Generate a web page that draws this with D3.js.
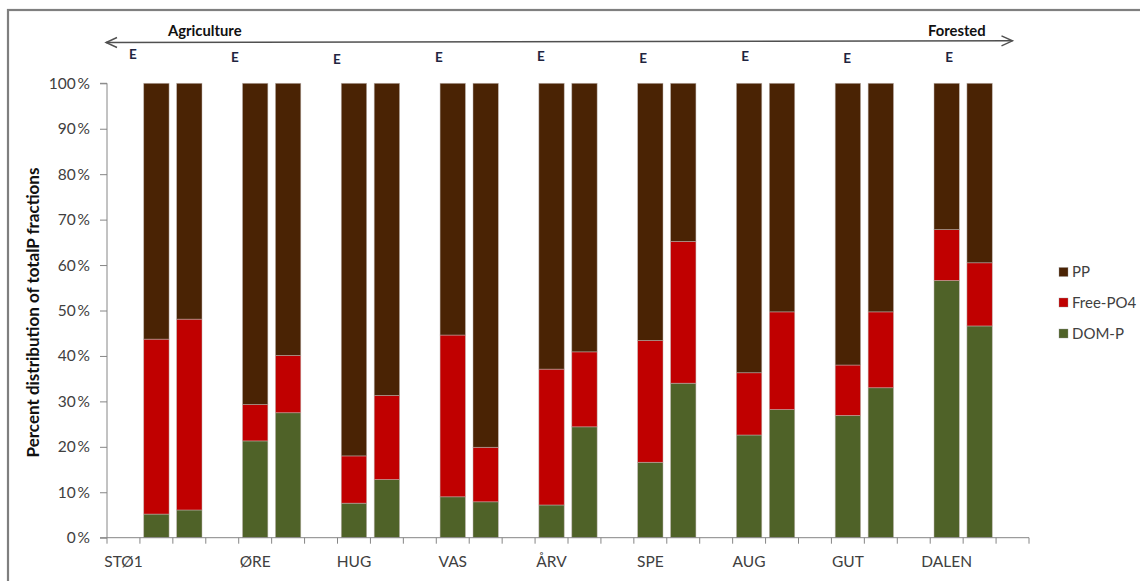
<!DOCTYPE html>
<html>
<head>
<meta charset="utf-8">
<script src="https://cdn.jsdelivr.net/npm/d3@7"></script>
<style>
  html, body { margin: 0; padding: 0; background: #fff; }
  svg { display: block; }
  text { font-family: Lato, "Open Sans", sans-serif; }
</style>
</head>
<body>
<svg id="chart" width="1140" height="581"></svg>
<script>
// ---- data ----
const sites = ["STØ1", "ØRE", "HUG", "VAS", "ÅRV", "SPE", "AUG", "GUT", "DALEN"];
// 28 category slots on the x axis (spacer, E bar, second bar per site, + trailing spacer)
const tickLabels = ["STØ1","","","","ØRE","","","HUG","","","VAS","","","ÅRV","","","SPE","","","AUG","","","GUT","","","DALEN","",""];
// bars: for each site the "E" bar then the second bar
const barSlots = [1,2, 4,5, 7,8, 10,11, 13,14, 16,17, 19,20, 22,23, 25,26];
const domP    = [5.2, 6.1, 21.3, 27.5, 7.6, 12.8, 9.0, 7.9, 7.2, 24.4, 16.6, 34.0, 22.6, 28.2, 26.9, 33.0, 56.6, 46.6];
const freePO4 = [38.5, 42.0, 8.0, 12.6, 10.4, 18.5, 35.6, 12.0, 29.9, 16.5, 26.8, 31.2, 13.7, 21.5, 11.1, 16.7, 11.2, 13.9];
const pp      = [56.3, 51.9, 70.7, 59.9, 82.0, 68.7, 55.4, 80.1, 62.9, 59.1, 56.6, 34.8, 63.7, 50.3, 62.0, 50.3, 32.2, 39.5];
const seriesNames = ["DOM-P", "Free-PO4", "PP"];
const seriesColors = ["#4f6228", "#c00000", "#4a2304"];
const yTicks = [0, 10, 20, 30, 40, 50, 60, 70, 80, 90, 100];
const eLabels = ["E","E","E","E","E","E","E","E","E"];
const eDy = [0, 3, 5, 3, 2, 4, 2, 4, 3];

// ---- layout ----
const svg = d3.select("#chart");
const pLeft = 107, pRight = 1029, pTop = 83.3, pBottom = 537.7;
const axisColor = "#868686";
const textColor = "#404040";

// frame
svg.append("rect").attr("x", 8).attr("y", 10).attr("width", 1200).attr("height", 700)
  .attr("fill", "none").attr("stroke", "#7f7f7f").attr("stroke-width", 2.2);

const x = d3.scaleBand().domain(d3.range(tickLabels.length)).range([pLeft, pRight])
  .paddingInner(0.23).paddingOuter(0.115);
const step = x.step();
const y = d3.scaleLinear().domain([0, 100]).range([pBottom, pTop]);

// stacked data
const rows = barSlots.map((s, i) => ({ slot: s, "DOM-P": domP[i], "Free-PO4": freePO4[i], "PP": pp[i] }));
const stacked = d3.stack().keys(seriesNames)(rows);

const gBars = svg.append("g");
stacked.forEach((layer, li) => {
  gBars.selectAll(null).data(layer).enter().append("rect")
    .attr("x", d => x(d.data.slot))
    .attr("width", x.bandwidth())
    .attr("y", d => y(d[1]))
    .attr("height", d => y(d[0]) - y(d[1]))
    .attr("fill", seriesColors[li])
    .attr("stroke", "rgba(190,180,175,0.7)")
    .attr("stroke-width", 0.7);
});

// y axis
const yAxis = d3.axisLeft(y).tickValues(yTicks).tickSize(7).tickPadding(10)
  .tickFormat(d => d + "\u2009%");
const gy = svg.append("g").attr("transform", `translate(${pLeft},0)`).call(yAxis);
gy.select(".domain").attr("stroke", axisColor).attr("d", `M-7,${pTop}H0V${pBottom}H-7`);
gy.selectAll(".tick line").attr("stroke", axisColor);
gy.selectAll(".tick text").attr("fill", textColor).style("font-size", "15.5px")
  .style("font-family", "Lato, sans-serif");

// x axis
const xAxis = d3.axisBottom(x).tickSize(0).tickPadding(18).tickFormat((d, i) => tickLabels[i]);
const gx = svg.append("g").attr("transform", `translate(0,${pBottom})`).call(xAxis);
gx.select(".domain").attr("stroke", axisColor).attr("d", `M${pLeft},0H${pRight}`);
gx.selectAll(".tick text").attr("fill", textColor).style("font-size", "15.5px")
  .style("font-family", "Lato, sans-serif");
// boundary ticks
gx.selectAll(null).data(d3.range(tickLabels.length + 1)).enter().append("line")
  .attr("x1", k => pLeft + k * step).attr("x2", k => pLeft + k * step)
  .attr("y1", 0).attr("y2", 6).attr("stroke", axisColor);

// y axis title
svg.append("text")
  .attr("transform", `translate(39,${(pTop + pBottom) / 2 + 2}) rotate(-90)`)
  .attr("text-anchor", "middle").attr("fill", "#111")
  .style("font-size", "17px").style("font-weight", "bold")
  .text("Percent distribution of totalP fractions");

// top arrow
const arrowY0 = 42.5, arrowY1 = 40.8, ax0 = 106, ax1 = 1012.5;
const arrowG = svg.append("g").attr("stroke", "#505050").attr("stroke-width", 1.4).attr("fill", "none");
arrowG.append("line").attr("x1", ax0).attr("y1", arrowY0).attr("x2", ax1).attr("y2", arrowY1);
arrowG.append("path").attr("d", `M${ax0 + 11},${arrowY0 - 5}L${ax0},${arrowY0}L${ax0 + 11},${arrowY0 + 5}`);
arrowG.append("path").attr("d", `M${ax1 - 11},${arrowY1 - 5}L${ax1},${arrowY1}L${ax1 - 11},${arrowY1 + 5}`);

svg.append("text").attr("x", 168).attr("y", 36).attr("fill", "#111")
  .style("font-size", "14.8px").style("font-weight", "bold").text("Agriculture");
svg.append("text").attr("x", 928).attr("y", 36).attr("fill", "#111")
  .style("font-size", "14.8px").style("font-weight", "bold").text("Forested");

// E annotations
const ex = d3.scalePoint().domain(sites).range([x(0) + step * 0.67, x(25) + step * 0.46]);
svg.selectAll(null).data(sites).enter().append("text")
  .attr("x", d => ex(d)).attr("y", (d, i) => 59 + eDy[i])
  .attr("text-anchor", "middle").attr("fill", "#1f2440")
  .style("font-size", "13.5px").style("font-weight", "bold")
  .text((d, i) => eLabels[i]);

// legend
const legendItems = ["PP", "Free-PO4", "DOM-P"];
const legendColors = ["#4a2304", "#c00000", "#4f6228"];
const legendY = [272, 302.5, 333.5];
const lg = svg.append("g");
legendItems.forEach((name, i) => {
  lg.append("rect").attr("x", 1059).attr("y", legendY[i] - 4.5).attr("width", 9).attr("height", 9)
    .attr("fill", legendColors[i]).attr("stroke", "rgba(150,150,150,0.6)").attr("stroke-width", 0.6);
  lg.append("text").attr("x", 1072).attr("y", legendY[i]).attr("dy", "0.35em")
    .attr("fill", textColor).style("font-size", "15px").text(name);
});
</script>
</body>
</html>
